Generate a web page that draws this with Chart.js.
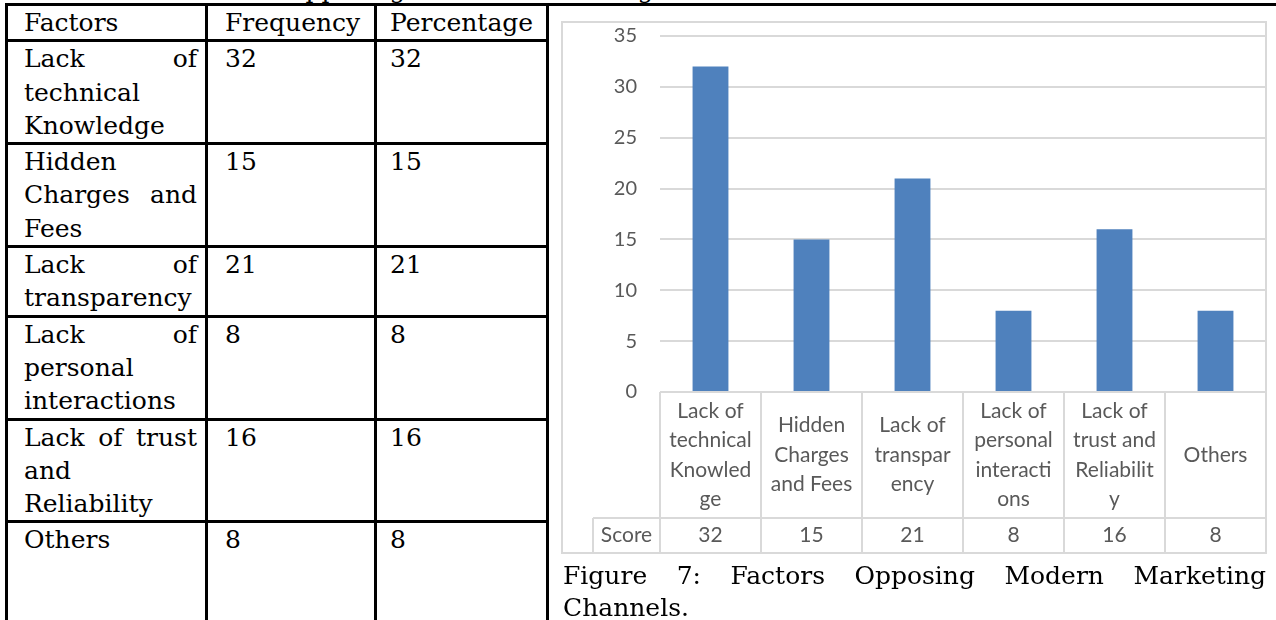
<!DOCTYPE html>
<html lang="en">
<head>
    <meta charset="UTF-8">
    <title>Factors Opposing Modern Marketing Channels</title>
    <script src="https://cdn.jsdelivr.net/npm/chart.js"></script>
    <style>
        body { margin: 0; width: 1276px; height: 620px; overflow: hidden; background: #fff; position: relative; }
        .serif { font-family: "DejaVu Serif", "Liberation Serif", serif; font-size: 25px; color: #000; }
        #cutText { position: absolute; left: 74px; top: -25px; white-space: nowrap; line-height: 30px; }
        #topLine { position: absolute; left: 5px; top: 3px; width: 1271px; height: 3px; background: #000; }
        #factorTable { position: absolute; left: 5px; top: 3px; border-collapse: collapse; table-layout: fixed; }
        #factorTable td { border: 3px solid #000; vertical-align: top; padding: 0 8px 0 16px; line-height: 33.3px; }
        #factorTable td.num { padding-left: 17px; }
        #factorTable td.pct { padding-left: 13px; }
        #factorTable .j { text-align: justify; text-align-last: justify; }
        #factorTable tr.last td { padding-bottom: 100px; }
        #chartBox { position: absolute; left: 556px; top: 0; }
        #caption { position: absolute; left: 563px; top: 560px; width: 703px; line-height: 32px; text-align: justify; }
    </style>
</head>
<body>
    <div id="cutText" class="serif">Table 7: Factors Opposing Modern Marketing Channels</div>
    <div id="topLine"></div>
    <table id="factorTable" class="serif">
        <colgroup><col style="width:200px"><col style="width:169px"><col style="width:172px"></colgroup>
        <tbody id="factorBody"></tbody>
    </table>
    <canvas id="chartBox" width="720" height="570"></canvas>
    <div id="caption" class="serif">Figure 7: Factors Opposing Modern Marketing Channels.</div>

    <script>
        // data
        const tableHeaders = ['Factors', 'Frequency', 'Percentage'];
        const factorLines = [
            ['Lack of', 'technical', 'Knowledge'],
            ['Hidden', 'Charges and', 'Fees'],
            ['Lack of', 'transparency'],
            ['Lack of', 'personal', 'interactions'],
            ['Lack of trust', 'and', 'Reliability'],
            ['Others']
        ];
        const axisLabels = [
            ['Lack of', 'technical', 'Knowled', 'ge'],
            ['Hidden', 'Charges', 'and Fees'],
            ['Lack of', 'transpar', 'ency'],
            ['Lack of', 'personal', 'interacti', 'ons'],
            ['Lack of', 'trust and', 'Reliabilit', 'y'],
            ['Others']
        ];
        const frequency = [32, 15, 21, 8, 16, 8];
        const percentage = [32, 15, 21, 8, 16, 8];
        const seriesName = 'Score';
        const yTicks = { min: 0, max: 35, step: 5 };

        // left table
        const body = document.getElementById('factorBody');
        const head = document.createElement('tr');
        tableHeaders.forEach((h, i) => {
            const td = document.createElement('td');
            if (i === 1) td.className = 'num';
            if (i === 2) td.className = 'pct';
            td.textContent = h;
            head.appendChild(td);
        });
        body.appendChild(head);
        factorLines.forEach((lines, r) => {
            const tr = document.createElement('tr');
            if (r === factorLines.length - 1) tr.className = 'last';
            const first = document.createElement('td');
            lines.forEach((ln, k) => {
                const d = document.createElement('div');
                d.textContent = ln;
                if (k < lines.length - 1) d.className = 'j';
                first.appendChild(d);
            });
            tr.appendChild(first);
            [frequency[r], percentage[r]].forEach((v, i) => {
                const td = document.createElement('td');
                td.className = i === 0 ? 'num' : 'pct';
                td.textContent = v;
                tr.appendChild(td);
            });
            body.appendChild(tr);
        });

        // chart
        const textColor = '#595959';
        const lineColor = '#d9d9d9';
        const sansFont = 'Lato, "Open Sans", sans-serif';
        const tableHeight = 161;
        const labelRowHeight = 126;

        const dataTablePlugin = {
            id: 'dataTable',
            beforeDraw(chart) {
                const c = chart.ctx;
                const area = chart.chartArea;
                c.save();
                c.strokeStyle = lineColor;
                c.lineWidth = 2;
                c.strokeRect(6, 22, area.right - 6, area.bottom + tableHeight - 22);
                c.restore();
            },
            afterDraw(chart) {
                const c = chart.ctx;
                const area = chart.chartArea;
                const xs = chart.scales.x;
                const n = chart.data.labels.length;
                const colW = (area.right - area.left) / n;
                const top = area.bottom;
                const rowY = top + labelRowHeight;
                const bottom = top + tableHeight;
                const labelLeft = 37;

                c.save();
                c.strokeStyle = lineColor;
                c.lineWidth = 2;
                c.beginPath();
                for (let i = 0; i <= n; i++) {
                    const x = Math.round(area.left + i * colW);
                    c.moveTo(x, top);
                    c.lineTo(x, bottom);
                }
                c.moveTo(labelLeft, rowY);
                c.lineTo(area.right, rowY);
                c.moveTo(labelLeft, rowY);
                c.lineTo(labelLeft, bottom);
                c.stroke();

                c.fillStyle = textColor;
                c.font = '21px ' + sansFont;
                c.textAlign = 'center';
                c.textBaseline = 'middle';
                const lh = 29.5;
                chart.data.labels.forEach((lines, i) => {
                    const cx = xs.getPixelForValue(i);
                    const y0 = (top + rowY) / 2 - (lines.length - 1) * lh / 2;
                    lines.forEach((ln, k) => c.fillText(ln, cx, y0 + k * lh));
                });
                const ds = chart.data.datasets[0];
                const vy = (rowY + bottom) / 2;
                c.fillText(ds.label, (labelLeft + area.left) / 2, vy);
                ds.data.forEach((v, i) => c.fillText(String(v), xs.getPixelForValue(i), vy));
                c.restore();
            }
        };

        new Chart(document.getElementById('chartBox').getContext('2d'), {
            type: 'bar',
            data: {
                labels: axisLabels,
                datasets: [{
                    label: seriesName,
                    data: frequency,
                    backgroundColor: '#4f81bd',
                    barPercentage: 0.355,
                    categoryPercentage: 1
                }]
            },
            options: {
                responsive: false,
                animation: false,
                devicePixelRatio: 1,
                layout: { padding: { top: 36, right: 10, bottom: 17, left: 0 } },
                plugins: { legend: { display: false }, tooltip: { enabled: false } },
                scales: {
                    x: {
                        grid: { display: false },
                        border: { display: false },
                        ticks: { display: false },
                        afterFit: s => { s.height = tableHeight; }
                    },
                    y: {
                        min: yTicks.min,
                        max: yTicks.max,
                        ticks: { stepSize: yTicks.step, padding: 23, color: textColor, font: { family: sansFont, size: 20 } },
                        grid: { color: lineColor, lineWidth: 2, drawTicks: false },
                        border: { display: false },
                        afterFit: s => { s.width = 104; }
                    }
                }
            },
            plugins: [dataTablePlugin]
        });
    </script>
</body>
</html>
